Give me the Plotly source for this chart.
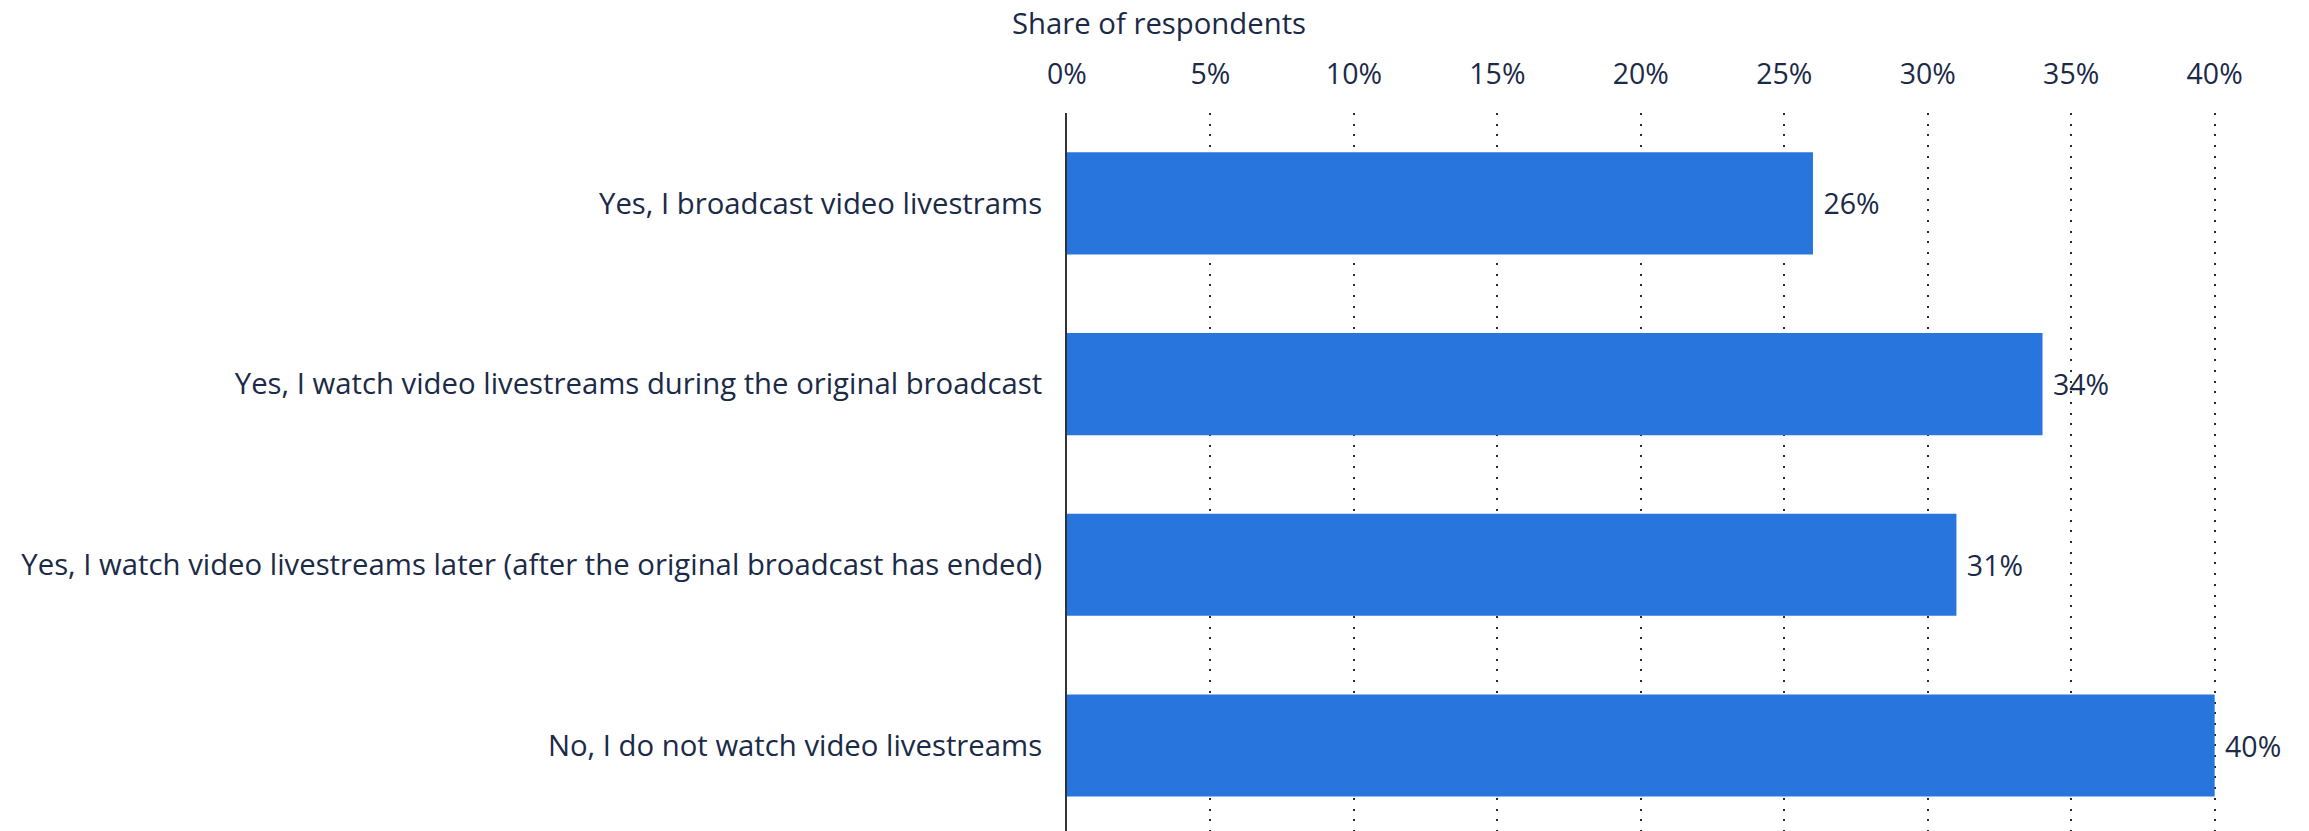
import plotly.graph_objects as go

# Survey answers and shares (percent)
categories = [
    "Yes, I broadcast video livestrams",
    "Yes, I watch video livestreams during the original broadcast",
    "Yes, I watch video livestreams later (after the original broadcast has ended)",
    "No, I do not watch video livestreams",
]
shares = [26, 34, 31, 40]
tick_values = [0, 5, 10, 15, 20, 25, 30, 35, 40]
tick_labels = ["0%", "5%", "10%", "15%", "20%", "25%", "30%", "35%", "40%"]

TEXT = "#1b2a47"
BAR = "#2876dd"
FONT = "Open Sans"

positions = list(range(len(categories)))

fig = go.Figure(
    go.Bar(
        x=shares,
        y=positions,
        orientation="h",
        marker=dict(color=BAR, line=dict(width=0)),
        width=0.565,
        text=[f" {v}%" for v in shares],
        textposition="outside",
        textfont=dict(family=FONT, size=28.5, color=TEXT),
        cliponaxis=False,
        constraintext="none",
        hoverinfo="skip",
    )
)

fig.update_layout(
    width=2309,
    height=831,
    margin=dict(l=1067, r=80, t=113, b=0, pad=0),
    paper_bgcolor="white",
    plot_bgcolor="white",
    showlegend=False,
    font=dict(family=FONT, size=28, color=TEXT),
    xaxis=dict(
        side="top",
        range=[0, 40.5],
        tickvals=tick_values,
        ticktext=tick_labels,
        tickfont=dict(family=FONT, size=28.5, color=TEXT),
        showgrid=True,
        gridcolor="#2a2a2a",
        griddash="2px,8.7px",
        gridwidth=2.4,
        zeroline=False,
        showline=False,
        ticks="",
        ticklabelstandoff=22,
        fixedrange=True,
    ),
    yaxis=dict(
        range=[3.473, -0.5],
        tickvals=positions,
        ticktext=categories,
        tickfont=dict(family=FONT, size=29.3, color=TEXT),
        showgrid=False,
        zeroline=False,
        showline=True,
        linecolor="#333333",
        linewidth=2,
        ticks="",
        ticklabelstandoff=17,
        fixedrange=True,
    ),
    annotations=[
        dict(
            text="Share of respondents",
            xref="paper",
            yref="paper",
            x=(1010 - 1067) / (2309 - 1067 - 80),
            y=1,
            yshift=113 - 23,
            xanchor="left",
            yanchor="middle",
            showarrow=False,
            font=dict(family=FONT, size=29.3, color=TEXT),
        )
    ],
)

fig.write_html("out.html")
